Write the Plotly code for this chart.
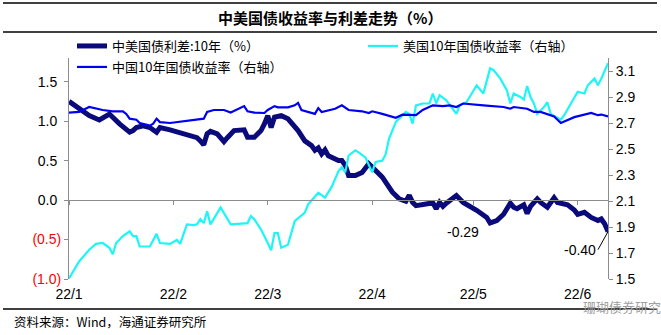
import plotly.graph_objects as go

# ---------------- data ----------------
spread_dates = ["2022-01-01","2022-01-04","2022-01-07","2022-01-10","2022-01-13","2022-01-16","2022-01-19","2022-01-20","2022-01-21","2022-01-23","2022-01-25","2022-01-27","2022-01-28","2022-01-31",
                "2022-02-04","2022-02-08","2022-02-09","2022-02-10","2022-02-11","2022-02-12","2022-02-14","2022-02-16","2022-02-17","2022-02-19","2022-02-22","2022-02-23","2022-02-25","2022-02-27","2022-02-28",
                "2022-03-01","2022-03-02","2022-03-03","2022-03-05","2022-03-07","2022-03-10","2022-03-12","2022-03-14","2022-03-15","2022-03-16","2022-03-17","2022-03-18","2022-03-19","2022-03-22","2022-03-23","2022-03-24","2022-03-25","2022-03-27","2022-03-29","2022-03-31",
                "2022-04-01","2022-04-04","2022-04-07","2022-04-09","2022-04-11","2022-04-12","2022-04-13","2022-04-14","2022-04-17","2022-04-19","2022-04-20","2022-04-21","2022-04-22","2022-04-23","2022-04-26","2022-04-28",
                "2022-05-02","2022-05-05","2022-05-06","2022-05-08","2022-05-10","2022-05-12","2022-05-13","2022-05-14","2022-05-16","2022-05-17","2022-05-18","2022-05-20","2022-05-21","2022-05-23","2022-05-25","2022-05-26","2022-05-29","2022-05-31",
                "2022-06-01","2022-06-03","2022-06-05","2022-06-07","2022-06-08","2022-06-09","2022-06-10"]
spread_vals = [1.25,1.155,1.07,1.015,1.09,0.965,0.86,0.88,0.92,0.94,0.92,0.86,0.92,0.89,
               0.84,0.79,0.75,0.70,0.84,0.87,0.84,0.74,0.79,0.88,0.89,0.795,0.795,0.88,0.965,
               1.07,0.92,1.05,1.07,1.03,0.88,0.75,0.69,0.63,0.66,0.585,0.635,0.56,0.50,0.50,0.44,0.31,0.31,0.35,0.46,
               0.415,0.29,0.10,0.015,-0.015,0.06,-0.03,-0.07,-0.05,-0.035,-0.11,-0.03,-0.08,-0.04,0.057,-0.03,
               -0.13,-0.22,-0.29,-0.26,-0.18,-0.04,-0.09,-0.11,-0.06,-0.17,-0.08,0.015,-0.03,-0.09,0.03,-0.03,-0.06,-0.125,
               -0.18,-0.155,-0.22,-0.26,-0.24,-0.30,-0.40]

cn_dates = ["2022-01-01","2022-01-04","2022-01-07","2022-01-11","2022-01-14","2022-01-17","2022-01-18","2022-01-19","2022-01-21","2022-01-22","2022-01-25","2022-01-26","2022-01-27","2022-01-28","2022-01-31",
            "2022-02-08","2022-02-10","2022-02-11","2022-02-13","2022-02-16","2022-02-18","2022-02-22","2022-02-23","2022-02-25","2022-02-28",
            "2022-03-01","2022-03-03","2022-03-04","2022-03-07","2022-03-09","2022-03-10","2022-03-11","2022-03-13","2022-03-15","2022-03-16","2022-03-17","2022-03-21","2022-03-23","2022-03-25","2022-03-29","2022-03-31",
            "2022-04-01","2022-04-04","2022-04-08","2022-04-10","2022-04-14","2022-04-16","2022-04-19","2022-04-22","2022-04-24","2022-04-26","2022-04-28",
            "2022-05-04","2022-05-10","2022-05-12","2022-05-13","2022-05-17","2022-05-19","2022-05-21","2022-05-23","2022-05-25","2022-05-27","2022-05-28","2022-05-31",
            "2022-06-05","2022-06-07","2022-06-08","2022-06-10"]
cn_vals = [2.78,2.785,2.823,2.80,2.79,2.79,2.77,2.733,2.725,2.70,2.68,2.695,2.733,2.707,2.70,
           2.725,2.733,2.785,2.80,2.80,2.78,2.83,2.79,2.78,2.777,
           2.80,2.83,2.82,2.82,2.836,2.855,2.80,2.785,2.77,2.815,2.785,2.81,2.836,2.80,2.79,2.777,
           2.79,2.77,2.74,2.764,2.76,2.80,2.836,2.83,2.836,2.823,2.85,
           2.836,2.823,2.81,2.823,2.81,2.785,2.785,2.77,2.75,2.70,2.71,2.745,
           2.777,2.76,2.765,2.75]

us_dates = ["2022-01-01","2022-01-04","2022-01-07","2022-01-09","2022-01-11","2022-01-13","2022-01-14","2022-01-15","2022-01-17","2022-01-19","2022-01-20","2022-01-21","2022-01-22","2022-01-25","2022-01-27","2022-01-28","2022-01-31",
            "2022-02-02","2022-02-03","2022-02-05","2022-02-07","2022-02-08","2022-02-09","2022-02-10","2022-02-11","2022-02-12","2022-02-15","2022-02-18","2022-02-23","2022-02-24","2022-02-25","2022-02-27",
            "2022-03-01","2022-03-02","2022-03-03","2022-03-04","2022-03-05","2022-03-07","2022-03-09","2022-03-11","2022-03-12","2022-03-13","2022-03-15","2022-03-16","2022-03-18","2022-03-20","2022-03-22","2022-03-23","2022-03-24","2022-03-25","2022-03-27","2022-03-28","2022-03-30",
            "2022-04-01","2022-04-02","2022-04-04","2022-04-05","2022-04-06","2022-04-08","2022-04-10","2022-04-11","2022-04-12","2022-04-13","2022-04-14","2022-04-16","2022-04-18","2022-04-19","2022-04-20","2022-04-21","2022-04-23","2022-04-26","2022-04-27","2022-04-29",
            "2022-05-02","2022-05-04","2022-05-06","2022-05-07","2022-05-09","2022-05-11","2022-05-12","2022-05-13","2022-05-15","2022-05-16","2022-05-17","2022-05-18","2022-05-19","2022-05-20","2022-05-22","2022-05-23","2022-05-24","2022-05-26","2022-05-27","2022-05-28","2022-05-30",
            "2022-06-01","2022-06-03","2022-06-04","2022-06-06","2022-06-07","2022-06-08","2022-06-09","2022-06-10"]
us_vals = [1.505,1.635,1.725,1.77,1.777,1.74,1.69,1.777,1.83,1.867,1.83,1.83,1.75,1.75,1.847,1.777,1.77,
           1.80,1.77,1.92,1.914,1.92,1.96,1.93,2.02,1.92,2.05,1.92,1.93,1.984,1.96,1.88,
           1.777,1.72,1.854,1.854,1.74,1.764,1.945,1.984,2.01,2.074,2.14,2.164,2.126,2.21,2.33,2.36,2.32,2.45,2.49,2.474,2.435,
           2.32,2.40,2.41,2.46,2.578,2.707,2.76,2.785,2.77,2.695,2.836,2.85,2.85,2.927,2.85,2.914,2.875,2.77,2.836,2.86,
           2.99,2.927,3.12,3.108,3.043,2.95,2.85,2.927,2.90,2.88,2.984,2.90,2.85,2.77,2.823,2.86,2.77,2.74,2.725,2.76,2.85,
           2.94,2.927,2.99,3.043,2.99,3.04,3.108,3.16]

x_tick_vals = ["2022-01-01","2022-02-01","2022-03-01","2022-04-01","2022-05-01","2022-06-01"]
x_tick_text = ["22/1","22/2","22/3","22/4","22/5","22/6"]
left_tick_vals = [-1.0,-0.5,0.0,0.5,1.0,1.5]
left_tick_text = ["<span style='color:#FF0000'>(1.0)</span>","<span style='color:#FF0000'>(0.5)</span>",
                  "0.0\u00a0","0.5\u00a0","1.0\u00a0","1.5\u00a0"]
right_tick_vals = [1.5,1.7,1.9,2.1,2.3,2.5,2.7,2.9,3.1]

name_spread = "中美国债利差:10年（%）"
name_us = "美国10年国债收益率（右轴）"
name_cn = "中国10年国债收益率（右轴）"

NUM = "Liberation Sans, Arial, Noto Sans CJK SC"
CJK = "Noto Sans CJK SC, Liberation Sans"

fig = go.Figure()
fig.add_trace(go.Scatter(x=spread_dates, y=spread_vals, name=name_spread, mode="lines",
                         line=dict(color="#0A0A7A", width=5), yaxis="y", legend="legend"))
fig.add_trace(go.Scatter(x=us_dates, y=us_vals, name=name_us, mode="lines",
                         line=dict(color="#1EF5F5", width=2.2), yaxis="y2", legend="legend3"))
fig.add_trace(go.Scatter(x=cn_dates, y=cn_vals, name=name_cn, mode="lines",
                         line=dict(color="#0000F0", width=2.2), yaxis="y2", legend="legend2"))

xr = ["2022-01-01", "2022-06-10"]
gray = "#8C8C8C"
L, T, B, R = 69, 58, 56, 53
PW, PH = 661 - L - R, 335 - T - B


def px(xp):
    return (xp - L) / PW


def py(yp):
    return (335 - B - yp) / PH


leg_common = dict(orientation="h", xanchor="left", yanchor="middle", font=dict(family=CJK, size=13),
                  bgcolor="rgba(0,0,0,0)", itemwidth=30)

fig.update_layout(
    width=661, height=335,
    margin=dict(l=L, r=R, t=T, b=B),
    plot_bgcolor="white", paper_bgcolor="white",
    showlegend=True,
    font=dict(family=NUM, size=14, color="black"),
    xaxis=dict(type="date", range=xr, tickvals=x_tick_vals, ticktext=x_tick_text,
               showline=False, ticks="", showgrid=False, zeroline=False,
               ticklabelstandoff=5, tickfont=dict(family=NUM, size=14)),
    xaxis2=dict(type="date", range=xr, overlaying="x", anchor="free", position=1/2.8,
                tickvals=x_tick_vals, showticklabels=False, showline=True, linecolor=gray,
                linewidth=1, ticks="outside", ticklen=4, tickcolor=gray, showgrid=False, zeroline=False),
    yaxis=dict(range=[-1.0, 1.8], tickvals=left_tick_vals, ticktext=left_tick_text,
               showline=True, linecolor=gray, linewidth=1, ticks="outside", ticklen=4, tickcolor=gray,
               showgrid=False, zeroline=False, tickfont=dict(family=NUM, size=14)),
    yaxis2=dict(range=[1.5, 3.2], tickvals=right_tick_vals, tickformat=".1f", overlaying="y", side="right",
                showline=True, linecolor=gray, linewidth=1, ticks="outside", ticklen=4, tickcolor=gray,
                showgrid=False, zeroline=False, tickfont=dict(family=NUM, size=14)),
    legend=dict(x=px(72), y=py(46), **leg_common),
    legend3=dict(x=px(363), y=py(46), **leg_common),
    legend2=dict(x=px(72), y=py(67), **leg_common),
)

# dummy trace so xaxis2 (zero line with ticks) is drawn
fig.add_trace(go.Scatter(x=[xr[0]], y=[0], xaxis="x2", yaxis="y", mode="none",
                         showlegend=False, hoverinfo="skip"))

# title, rules, source
fig.add_annotation(text="<b>中美国债收益率与利差走势（%）</b>", xref="paper", yref="paper",
                   x=px(330), y=py(18), xanchor="center", yanchor="middle", showarrow=False,
                   font=dict(family=CJK, size=15, color="black"))
for yy in (3, 32, 309):
    fig.add_shape(type="line", xref="paper", yref="paper",
                  x0=px(3), x1=px(657), y0=py(yy), y1=py(yy),
                  line=dict(color="black", width=1.5))
fig.add_annotation(text="资料来源：Wind，海通证券研究所", xref="paper", yref="paper",
                   x=px(12), y=py(321), xanchor="left", yanchor="middle", showarrow=False,
                   font=dict(family=CJK, size=12.5, color="black"))
fig.add_annotation(text="珊瑚债券研究", xref="paper", yref="paper",
                   x=px(622), y=py(306), xanchor="center", yanchor="middle", showarrow=False,
                   font=dict(family=CJK, size=13, color="#a0a0a0"))

# data labels
fig.add_annotation(text="-0.29", x="2022-04-28", y=-0.41, xref="x", yref="y", showarrow=False,
                   font=dict(family=NUM, size=14, color="black"))
fig.add_annotation(text="-0.40", x=spread_dates[-1], y=spread_vals[-1], xref="x", yref="y",
                   showarrow=True, arrowhead=0, arrowwidth=1, arrowcolor="black",
                   ax=-10, ay=18, xanchor="right", standoff=0,
                   font=dict(family=NUM, size=14, color="black"))

fig.write_html("out.html")
